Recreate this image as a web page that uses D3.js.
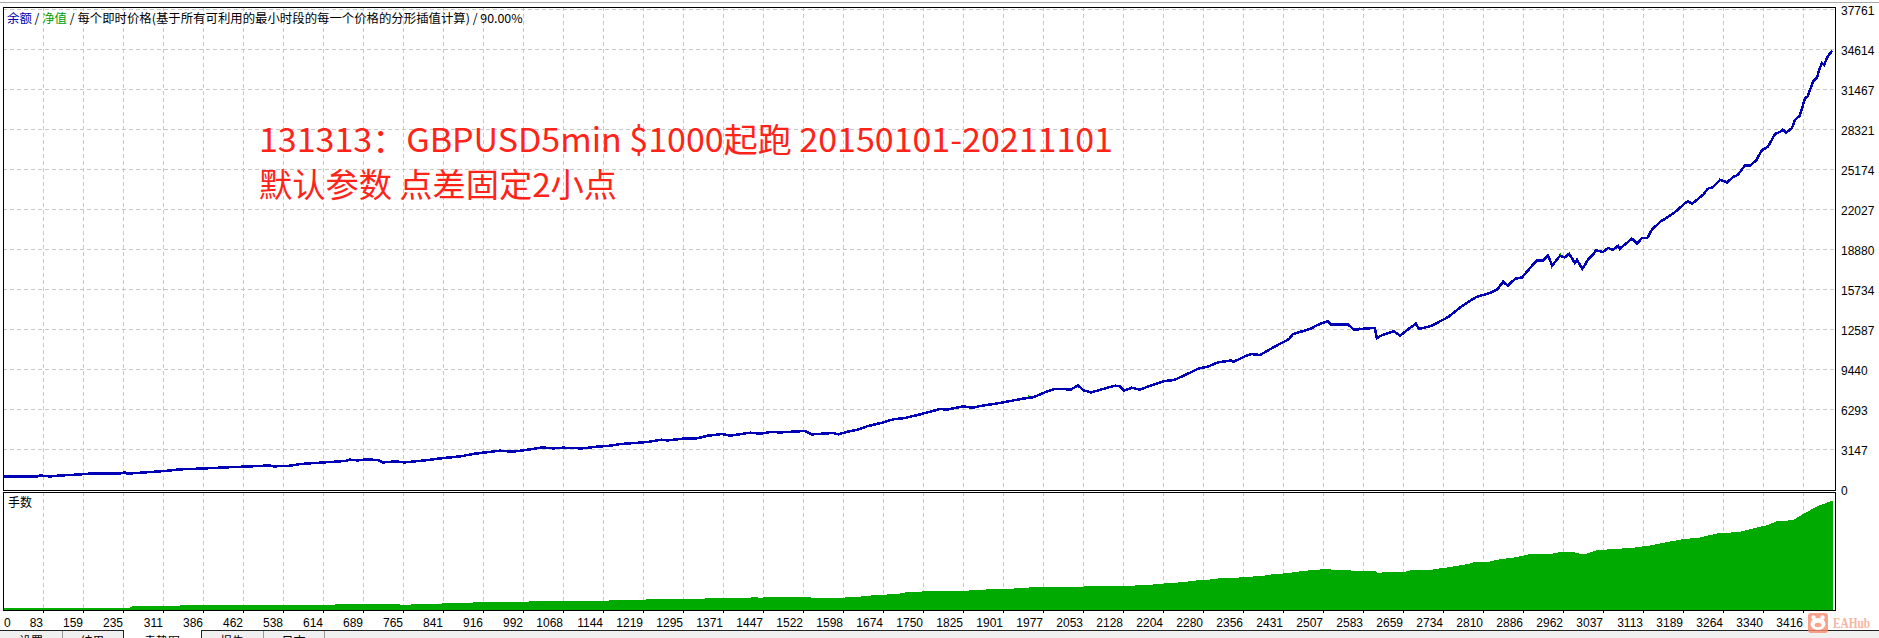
<!DOCTYPE html>
<html lang="zh"><head><meta charset="utf-8">
<script src="https://cdnjs.cloudflare.com/ajax/libs/d3/7.8.5/d3.min.js"></script>
<style>
html,body{margin:0;padding:0;background:#fff;overflow:hidden}
svg{display:block}
.tick text{font-family:"Liberation Sans",sans-serif;font-size:12px;fill:#000}
</style></head><body>
<svg id="c" width="1879" height="638"></svg>
<script>
const xTickLabels=[0,83,159,235,311,386,462,538,614,689,765,841,916,992,1068,1144,1219,1295,1371,1447,1522,1598,1674,1750,1825,1901,1977,2053,2128,2204,2280,2356,2431,2507,2583,2659,2734,2810,2886,2962,3037,3113,3189,3264,3340,3416];
const yTickLabels=[0,3147,6293,9440,12587,15734,18880,22027,25174,28321,31467,34614,37761];

const balanceTrade=[9,72,77,96,111,153,178,229,238,242,276,314,342,390,428,475,513,519,551,570,607,655,664,680,693,717,727,750,768,806,835,873,901,916,948,973,1011,1028,1049,1068,1104,1132,1157,1176,1204,1227,1255,1265,1295,1321,1342,1369,1384,1397,1422,1441,1460,1479,1526,1539,1579,1589,1607,1626,1643,1674,1693,1715,1744,1782,1795,1825,1844,1858,1895,1935,1960,1982,1999,2030,2043,2054,2068,2090,2113,2123,2130,2145,2160,2185,2208,2225,2250,2272,2289,2308,2333,2337,2359,2371,2388,2414,2443,2450,2467,2482,2498,2516,2522,2554,2566,2590,2605,2609,2621,2641,2653,2674,2683,2689,2713,2744,2768,2784,2797,2823,2838,2848,2857,2871,2884,2899,2912,2924,2933,2941,2956,2965,2973,2984,2988,2998,3009,3018,3024,3037,3047,3056,3066,3069,3092,3102,3111,3121,3130,3145,3164,3174,3193,3198,3206,3227,3236,3246,3259,3272,3284,3293,3306,3316,3327,3338,3350,3363,3372,3378,3384,3395,3401,3410,3420,3425,3435,3442,3448,3452,3456,3463,3471];
const balance=[968,991,1070,991,1046,1149,1227,1227,1306,1204,1306,1416,1542,1621,1699,1778,1857,1778,1833,1967,2069,2203,2305,2250,2329,2281,2093,2171,2093,2250,2407,2565,2777,2856,3013,2934,3147,3273,3194,3249,3194,3328,3406,3540,3619,3697,3878,3823,3957,3981,4193,4327,4193,4272,4429,4350,4484,4453,4563,4295,4406,4295,4508,4665,4925,5239,5475,5586,5869,6294,6239,6498,6396,6530,6766,7080,7238,7631,7867,7836,8150,7757,7600,7867,8127,8072,7733,7969,7812,8205,8496,8575,9047,9488,9621,9960,10117,9991,10432,10620,10542,11171,11800,12194,12398,12587,12925,13217,12925,12949,12532,12634,12666,11879,12139,12398,12060,12745,13004,12587,12847,13531,14318,14758,15105,15419,15734,16308,15994,16544,16647,17386,17984,17984,18354,17591,18354,18220,18511,17779,18039,17307,18039,18432,18771,18645,18959,18802,19140,18905,19691,19298,19746,19746,20399,21005,21501,21792,22500,22625,22445,23153,23625,23758,24333,24120,24545,24726,25458,25458,25827,26638,26952,27928,28085,28266,28030,28400,29053,29367,30760,30886,32066,32333,33120,33513,33380,34033,34481];

const equityTrade=[1950,2297,2577,2939,2956];
const equityHigh=[7419,9936,12768,17567,18590];
const equityLow=[7183,9794,12611,17331,18354];

const lotsTrade=[9,39,248,252,342,556,636,721,759,780,839,897,1003,1155,1225,1337,1424,1437,1447,1537,1602,1632,1651,1681,1706,1715,1748,1774,1829,1857,1869,1903,1909,1922,1950,1973,2054,2092,2130,2140,2185,2206,2232,2251,2266,2293,2308,2348,2367,2397,2409,2426,2448,2471,2494,2518,2522,2560,2575,2605,2611,2645,2657,2679,2687,2712,2727,2742,2761,2780,2791,2823,2842,2867,2905,2943,2962,2981,3000,3026,3094,3126,3158,3189,3221,3253,3297,3321,3348,3367,3397,3416,3433,3448,3473];
const lots=[2,1.5,2.3,3.3,4.3,5,6,5.3,5,6,7,8,9,10,11,12,13,12,13,12,13,14,15,16,16,17,18,19,18.7,19.7,20,20.7,20,21,22,23,23,24,23,23.7,25,26,27,28,29,30,31,32,32.7,34,35,35.7,37,38.7,39.7,40.7,40,39,38.7,38.7,36.7,38,37.3,39.7,39,39.7,41,42,43.7,45.3,47,48,50.3,51.7,56,56,58,57.3,55,59.3,61.7,64,67.3,70.3,72,76,77.7,81,84.3,88.3,89.3,95.3,100.3,104.3,109];
const lotsStepUntil=1681;

const titleParts=[["余额","#0000b4"],[" / ","#000"],["净值","#00a000"],[" / ","#000"],["每个即时价格(基于所有可利用的最小时段的每一个价格的分形插值计算) / 90.00%","#000"]];
const noteLines=["131313：GBPUSD5min $1000起跑 20150101-20211101","默认参数 点差固定2小点"];
const tabLabels=["设置","结果","走势图","报告","日志"];

const svg=d3.select("#c");
const cjk='"Noto Sans CJK SC","Noto Sans",sans-serif';

svg.append("rect").attr("x",0).attr("y",631).attr("width",1879).attr("height",7).attr("fill","#f0f0f0");
svg.append("rect").attr("x",0).attr("y",2).attr("width",1879).attr("height",1).attr("fill","#a8a8a8");
svg.append("rect").attr("x",0).attr("y",630).attr("width",1879).attr("height",1).attr("fill","#222");

const x=d3.scaleLinear().domain([83,3416]).range([43,1803]);
const xSnap=x.copy().interpolate(d3.interpolateRound);
const yMain=d3.scaleLinear().domain([0,37761]).range([489,9]);
const yLots=d3.scaleLinear().domain([0,117]).range([609.5,492.5]);

const L=3,R=1835,T=7,B=490,T2=492,B2=610;

const grid=svg.append("g").attr("fill","none").attr("stroke","#c8c8c8").attr("stroke-dasharray","4,3").attr("shape-rendering","crispEdges");
grid.selectAll(".v1").data(xTickLabels.slice(1)).join("line").attr("class","v1")
  .attr("x1",d=>xSnap(d)+.5).attr("x2",d=>xSnap(d)+.5).attr("y1",T).attr("y2",B);
grid.selectAll(".v2").data(xTickLabels.slice(1)).join("line").attr("class","v2")
  .attr("x1",d=>xSnap(d)+.5).attr("x2",d=>xSnap(d)+.5).attr("y1",T2).attr("y2",B2);
grid.selectAll(".h").data(yTickLabels.slice(1)).join("line").attr("class","h")
  .attr("x1",L).attr("x2",R).attr("y1",d=>Math.round(yMain(d))+.5).attr("y2",d=>Math.round(yMain(d))+.5);

// lots: small steps on the left, fine slope further right
const lotPts=lotsTrade.map((n,i)=>[n,lots[i]]);
const lotArea=c=>d3.area().x(d=>x(d[0])).y0(yLots(0)).y1(d=>yLots(d[1])).curve(c);
const lotG=svg.append("g").attr("fill","#00aa00").attr("shape-rendering","crispEdges");
lotG.append("path").datum(lotPts.filter(d=>d[0]<=lotsStepUntil)).attr("d",lotArea(d3.curveStepAfter));
lotG.append("path").datum(lotPts.filter(d=>d[0]>=lotsStepUntil)).attr("d",lotArea(d3.curveLinear));

svg.append("g").attr("stroke","#00a000").attr("stroke-width",1).attr("shape-rendering","crispEdges")
  .selectAll("line").data(equityTrade).join("line")
  .attr("x1",d=>x(d)).attr("x2",d=>x(d))
  .attr("y1",(d,i)=>yMain(equityHigh[i])).attr("y2",(d,i)=>yMain(equityLow[i]));

const balPts=balanceTrade.map((n,i)=>[n,balance[i]]);
svg.append("path").datum(balPts).attr("fill","none").attr("stroke","#0000b4").attr("stroke-width",2.5)
  .attr("shape-rendering","crispEdges").attr("stroke-linejoin","miter")
  .attr("d",d3.line().x(d=>x(d[0])).y(d=>yMain(d[1])));

[[T,B],[T2,B2]].forEach(([a,b])=>svg.append("rect").attr("x",L+.5).attr("y",a+.5).attr("width",R-L).attr("height",b-a)
  .attr("fill","none").attr("stroke","#000").attr("shape-rendering","crispEdges"));

const axY=svg.append("g").attr("transform",`translate(${R},0)`)
  .call(d3.axisRight(yMain.copy().interpolate(d3.interpolateRound)).tickValues(yTickLabels).tickFormat(d3.format("d")).tickSize(0).tickPadding(6));
axY.select(".domain").remove();
axY.selectAll("text").attr("dy","0.42em");

const axX=svg.append("g").attr("transform",`translate(0,${B2})`)
  .call(d3.axisBottom(xSnap).tickValues(xTickLabels).tickFormat(d3.format("d")).tickSize(3).tickPadding(5));
axX.select(".domain").remove();
axX.selectAll("line").attr("stroke","#000");
axX.selectAll("text").attr("text-anchor","end").attr("dx","-0.5");
axX.selectAll(".tick").filter(d=>d===0).attr("transform","translate(4,0)")
  .call(s=>{s.select("line").remove();s.select("text").attr("text-anchor","start").attr("dx",0);});

const leg=svg.append("text").attr("x",7).attr("y",23).attr("font-family",cjk).attr("font-size",12.4);
leg.selectAll("tspan").data(titleParts).join("tspan").attr("fill",d=>d[1]).style("white-space","pre").text(d=>d[0]);
svg.append("text").attr("x",8).attr("y",507).attr("font-family",cjk).attr("font-size",12).attr("fill","#000").text("手数");

const noteWidths=[854,358];
svg.selectAll(".note").data(noteLines).join("text").attr("class","note")
  .attr("x",259).attr("y",(d,i)=>i?197:152)
  .attr("font-family",'"Noto Sans CJK SC",sans-serif').attr("font-size",33).attr("fill","#ff2318")
  .attr("textLength",(d,i)=>noteWidths[i]).attr("lengthAdjust","spacingAndGlyphs").text(d=>d);

const tabEdges=[0,62,123,201,263,324];
svg.append("rect").attr("x",tabEdges[2]+1).attr("y",630).attr("width",tabEdges[3]-tabEdges[2]-1).attr("height",8).attr("fill","#fff");
svg.selectAll(".tabsep").data(tabEdges.slice(1)).join("rect").attr("class","tabsep")
  .attr("x",d=>d).attr("y",631).attr("width",1).attr("height",7).attr("fill",(d,i)=>(i==1||i==2)?"#222":"#999");
svg.selectAll(".tab").data(tabLabels).join("text").attr("class","tab")
  .attr("x",(d,i)=>(tabEdges[i]+tabEdges[i+1])/2).attr("y",646).attr("text-anchor","middle")
  .attr("font-family",cjk).attr("font-size",12).attr("fill","#000").text(d=>d);

const wm=svg.append("g").attr("opacity",.8);
wm.append("rect").attr("x",1808).attr("y",613).attr("width",20).attr("height",20).attr("rx",3).attr("fill","#f98a6f");
wm.append("circle").attr("cx",1813.5).attr("cy",617.5).attr("r",2.2).attr("fill","#fff");
wm.append("circle").attr("cx",1822.5).attr("cy",617.5).attr("r",2.2).attr("fill","#fff");
wm.append("ellipse").attr("cx",1818).attr("cy",624).attr("rx",7.5).attr("ry",6).attr("fill","#fff");
wm.append("ellipse").attr("cx",1818).attr("cy",625).attr("rx",3.4).attr("ry",2.2).attr("fill","#f98a6f");
wm.append("text").attr("x",1833).attr("y",628).attr("font-family",'"Liberation Serif",serif').attr("font-weight","bold")
  .attr("font-size",14).attr("textLength",37).attr("lengthAdjust","spacingAndGlyphs").attr("fill","#f9a28c").text("EAHub");
</script>
</body></html>
